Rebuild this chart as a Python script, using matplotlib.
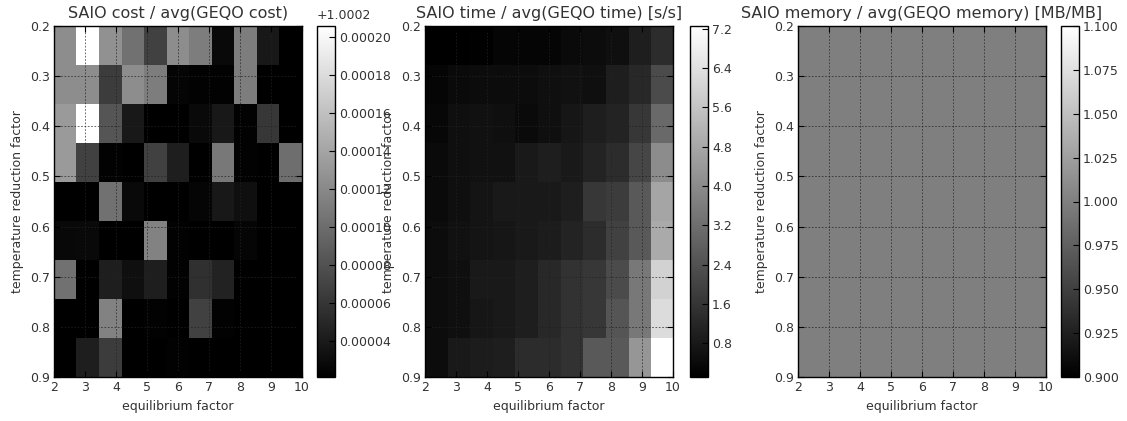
import numpy as np
import matplotlib
matplotlib.use("Agg")
import matplotlib.pyplot as plt
from matplotlib.ticker import FixedLocator, FixedFormatter

plt.rcParams['font.family'] = ['DejaVu Sans']
TEXT = '#333333'

# Grid parameters (axis range)
equilibrium_range = (2, 10)
temperature_range = (0.2, 0.9)
x_ticks = [2, 3, 4, 5, 6, 7, 8, 9, 10]
y_ticks = [0.2, 0.3, 0.4, 0.5, 0.6, 0.7, 0.8, 0.9]
y_ticklabels = ['0.2', '0.3', '0.4', '0.5', '0.6', '0.7', '0.8', '0.9']

# SAIO cost / avg(GEQO cost)
cost_ratio = np.array([
    [1.000323, 1.000406, 1.000326, 1.000304, 1.000268, 1.000323, 1.000312, 1.000228, 1.000312, 1.000239, 1.000221],
    [1.000323, 1.000323, 1.000265, 1.000323, 1.000312, 1.000225, 1.000223, 1.000223, 1.000312, 1.000221, 1.000221],
    [1.000333, 1.000406, 1.000283, 1.000239, 1.000221, 1.000221, 1.000228, 1.000239, 1.000223, 1.000261, 1.000221],
    [1.000333, 1.000268, 1.000223, 1.000221, 1.000268, 1.000243, 1.000221, 1.000308, 1.000223, 1.000221, 1.000301],
    [1.000221, 1.000221, 1.000304, 1.000228, 1.000221, 1.000221, 1.000225, 1.000239, 1.000232, 1.000221, 1.000221],
    [1.000227, 1.000228, 1.000221, 1.000221, 1.000315, 1.000223, 1.000221, 1.000221, 1.000225, 1.000221, 1.000221],
    [1.000304, 1.000221, 1.000243, 1.000232, 1.000243, 1.000223, 1.000257, 1.000246, 1.000221, 1.000221, 1.000221],
    [1.000221, 1.000221, 1.000315, 1.000221, 1.000223, 1.000221, 1.000268, 1.000223, 1.000221, 1.000221, 1.000221],
    [1.000221, 1.000243, 1.000265, 1.000221, 1.000221, 1.000223, 1.000221, 1.000221, 1.000221, 1.000221, 1.000221],
])
cost_offset = 1.0002
cost_offset_label = '+1.0002'
cost_cbar_ticks = [1.00024, 1.00026, 1.00028, 1.00030, 1.00032, 1.00034, 1.00036, 1.00038, 1.00040]
cost_cbar_labels = ['0.00004', '0.00006', '0.00008', '0.00010', '0.00012',
                    '0.00014', '0.00016', '0.00018', '0.00020']

# SAIO time / avg(GEQO time)
time_ratio = np.array([
    [0.11, 0.13, 0.15, 0.25, 0.25, 0.25, 0.39, 0.45, 0.53, 0.95, 1.37],
    [0.25, 0.39, 0.45, 0.45, 0.45, 0.53, 0.61, 0.53, 0.95, 1.23, 2.21],
    [0.33, 0.53, 0.61, 0.53, 0.39, 0.53, 0.73, 0.95, 1.09, 1.65, 3.05],
    [0.39, 0.53, 0.61, 0.61, 0.81, 0.95, 0.81, 1.09, 1.37, 2.07, 4.04],
    [0.39, 0.53, 0.67, 0.81, 0.81, 0.81, 0.95, 1.65, 1.79, 2.63, 4.74],
    [0.45, 0.61, 0.67, 0.73, 0.81, 0.90, 1.09, 1.37, 1.93, 2.63, 4.88],
    [0.45, 0.53, 0.81, 0.81, 0.95, 1.23, 1.51, 1.65, 2.21, 3.47, 6.00],
    [0.45, 0.53, 0.73, 0.81, 0.95, 1.23, 1.51, 1.65, 2.49, 3.47, 6.28],
    [0.45, 0.81, 0.90, 0.95, 1.37, 1.37, 1.51, 2.63, 2.63, 4.32, 7.26],
])
time_cbar_ticks = [0.8, 1.6, 2.4, 3.2, 4.0, 4.8, 5.6, 6.4, 7.2]
time_cbar_labels = ['0.8', '1.6', '2.4', '3.2', '4.0', '4.8', '5.6', '6.4', '7.2']

# SAIO memory / avg(GEQO memory)
memory_ratio = np.ones((9, 11))
memory_limits = (0.9, 1.1)
memory_cbar_ticks = [0.900, 0.925, 0.950, 0.975, 1.000, 1.025, 1.050, 1.075, 1.100]
memory_cbar_labels = ['0.900', '0.925', '0.950', '0.975', '1.000', '1.025', '1.050', '1.075', '1.100']

titles = ['SAIO cost / avg(GEQO cost)',
          'SAIO time / avg(GEQO time) [s/s]',
          'SAIO memory / avg(GEQO memory) [MB/MB]']

W, H = 1127, 421
fig = plt.figure(figsize=(W / 100, H / 100), dpi=100)


def px_rect(x0, x1, ytop, ybot):
    return [x0 / W, 1 - ybot / H, (x1 - x0) / W, (ybot - ytop) / H]


ax_x = [(54, 302), (425, 673), (798, 1046)]
cb_x = [(317, 335), (690, 708), (1061, 1079)]
ytop, ybot = 26, 377

panels = [
    (cost_ratio, None, None, cost_cbar_ticks, cost_cbar_labels),
    (time_ratio, None, None, time_cbar_ticks, time_cbar_labels),
    (memory_ratio, memory_limits[0], memory_limits[1], memory_cbar_ticks, memory_cbar_labels),
]

for i, (data, vmin, vmax, cticks, clabels) in enumerate(panels):
    ax = fig.add_axes(px_rect(ax_x[i][0], ax_x[i][1], ytop, ybot))
    cax = fig.add_axes(px_rect(cb_x[i][0], cb_x[i][1], ytop, ybot))
    im = ax.imshow(data, cmap='gray', interpolation='nearest', aspect='auto',
                   extent=[equilibrium_range[0], equilibrium_range[1],
                           temperature_range[1], temperature_range[0]],
                   vmin=vmin, vmax=vmax)
    ax.set_xlim(*equilibrium_range)
    ax.set_ylim(temperature_range[1], temperature_range[0])
    ax.set_xticks(x_ticks)
    ax.set_yticks(y_ticks)
    ax.set_yticklabels(y_ticklabels)
    ax.grid(True, color='#222222', linestyle=(0, (2, 2)), linewidth=0.6, alpha=0.8)
    ax.tick_params(direction='in', top=True, right=True, length=4, width=0.8,
                   labelsize=9, colors=TEXT, pad=3)
    ax.tick_params(color='black')
    for s in ax.spines.values():
        s.set_linewidth(1.0)
        s.set_color('black')
    ax.set_title(titles[i], fontsize=11.5, color=TEXT, pad=6)
    ax.set_xlabel('equilibrium factor', fontsize=9, color=TEXT, labelpad=4)
    ax.set_ylabel('temperature reduction factor', fontsize=9, color=TEXT, labelpad=4)

    cb = fig.colorbar(im, cax=cax)
    cb.outline.set_linewidth(1.0)
    cb.outline.set_edgecolor('black')
    cax.yaxis.set_major_locator(FixedLocator(cticks))
    cax.yaxis.set_major_formatter(FixedFormatter(clabels))
    cax.tick_params(direction='in', length=4, width=0.8, labelsize=9,
                    colors=TEXT, pad=3)
    cax.tick_params(color='black')
    if i == 0:
        cax.text(0.0, 1.01, cost_offset_label, transform=cax.transAxes,
                 fontsize=9, color=TEXT, ha='left', va='bottom')

fig.savefig('out.png', dpi=100, facecolor='white')
